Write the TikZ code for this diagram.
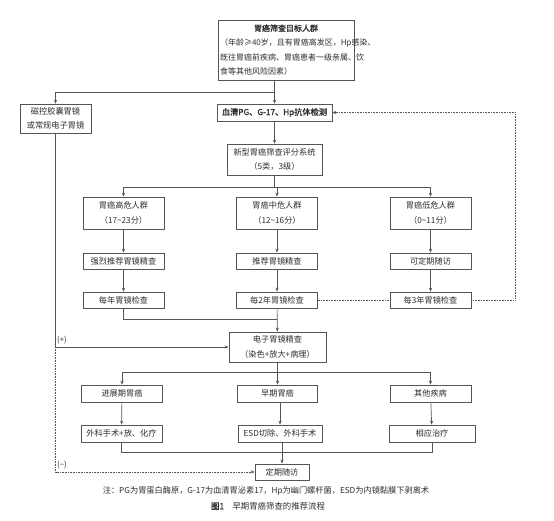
\documentclass[tikz,border=0pt]{standalone}
\usepackage{fontspec}
\setmainfont{Noto Sans CJK SC}[AutoFakeBold=1.5]
\usetikzlibrary{arrows.meta}
\definecolor{linec}{HTML}{555555}
\definecolor{textc}{HTML}{2E2E2E}
\begin{document}
\begin{tikzpicture}[x=1pt,y=-1pt,
  box/.style={draw=linec,line width=0.7pt,fill=white,text=textc,align=center,inner sep=1pt,
    font=\fontsize{8.2}{14.5}\selectfont},
  arr/.style={draw=linec,line width=0.7pt,-{Stealth[length=4pt,width=3.2pt]}},
  ln/.style={draw=linec,line width=0.7pt},
  dots/.style={draw=linec,line width=0.6pt,dash pattern=on 0.8pt off 0.8pt},
  lbl/.style={text=textc,inner sep=0pt,font=\fontsize{7.8}{9}\selectfont}]
\useasboundingbox (0,0) rectangle (554,521);
\node[box,minimum width=136pt,minimum height=60pt,text width=132pt,align=left,font=\fontsize{8}{14.5}\selectfont] (target) at (286,50)
  {\makebox[132pt]{\bfseries 胃癌筛查目标人群}\\（年龄≥40岁，且有胃癌高发区，Hp感染、\\既往胃癌前疾病、胃癌患者一级亲属、饮\\食等其他风险因素）};
\node[box,minimum width=71pt,minimum height=29pt] (capsule) at (55.5,118.5) {磁控胶囊胃镜\\或常规电子胃镜};
\node[box,minimum width=115pt,minimum height=17pt] (serum) at (274.5,112.5) {\bfseries 血清PG、G-17、Hp抗体检测};
\node[box,minimum width=95pt,minimum height=31pt] (score) at (274.5,159.5) {新型胃癌筛查评分系统\\（5类，3级）};
\node[box,minimum width=81pt,minimum height=32pt] (high) at (123.5,213) {胃癌高危人群\\（17\textasciitilde 23分）};
\node[box,minimum width=81pt,minimum height=32pt] (mid) at (277,213) {胃癌中危人群\\（12\textasciitilde 16分）};
\node[box,minimum width=81pt,minimum height=32pt] (low) at (430.5,213) {胃癌低危人群\\（0\textasciitilde 11分）};
\node[box,minimum width=81pt,minimum height=16pt] (highrec) at (123.5,261) {强烈推荐胃镜精查};
\node[box,minimum width=81pt,minimum height=16pt] (midrec) at (277,261) {推荐胃镜精查};
\node[box,minimum width=81pt,minimum height=16pt] (lowrec) at (430.5,261) {可定期随访};
\node[box,minimum width=81pt,minimum height=16pt] (highyear) at (123.5,300) {每年胃镜检查};
\node[box,minimum width=81pt,minimum height=16pt] (midyear) at (277,300) {每2年胃镜检查};
\node[box,minimum width=81pt,minimum height=16pt] (lowyear) at (430.5,300) {每3年胃镜检查};
\node[box,minimum width=97pt,minimum height=30pt] (endo) at (277.5,347) {电子胃镜精查\\（染色+放大+病理）};
\node[box,minimum width=81pt,minimum height=17pt] (adv) at (122,393.5) {进展期胃癌};
\node[box,minimum width=80pt,minimum height=17pt] (early) at (277.5,393.5) {早期胃癌};
\node[box,minimum width=81pt,minimum height=17pt] (other) at (430.5,393.5) {其他疾病};
\node[box,minimum width=81pt,minimum height=17pt] (advtx) at (121.5,433.5) {外科手术+放、化疗};
\node[box,minimum width=84pt,minimum height=17pt] (esd) at (280,433.5) {ESD切除、外科手术};
\node[box,minimum width=86pt,minimum height=17pt] (othertx) at (432,433.5) {相应治疗};
\node[box,minimum width=54pt,minimum height=16pt] (follow) at (282,472) {定期随访};
\coordinate (split1) at (274.5,92);
\coordinate (split2) at (274.5,187);
\coordinate (join1) at (277,319);
\coordinate (split3) at (277.5,372);
\coordinate (merge) at (432,452);
\coordinate (loop) at (515,300);
\draw[ln] (target.south -| serum) -- (split1);
\draw[arr] (split1) -- (serum);
\draw[arr] (split1) -| (capsule);
\draw[arr] (serum) -- (score);
\draw[ln] (score) -- (split2);
\draw[arr] (split2) -| (high);
\draw[arr] (split2) -| (mid);
\draw[arr] (split2) -| (low);
\draw[arr] (high) -- (highrec);
\draw[arr] (mid) -- (midrec);
\draw[arr] (low) -- (lowrec);
\draw[arr] (highrec) -- (highyear);
\draw[arr] (midrec) -- (midyear);
\draw[arr] (lowrec) -- (lowyear);
\draw[ln] (highyear) |- (join1);
\draw[arr] (midyear) -- (endo);
\draw[dots] (midyear) -- (lowyear);
\draw[dots,-{Stealth[length=4pt,width=3.2pt]}] (lowyear) -- (loop) |- (serum);
\draw[arr] (capsule) |- (endo);
\node[lbl,anchor=south west] (plus) at (57,344) {(+)};
\draw[dots,-{Stealth[length=4pt,width=3.2pt]}] (capsule.south |- endo.west) |- (follow);
\node[lbl,anchor=south west] (minus) at (57,469) {(−)};
\draw[ln] (endo) -- (split3);
\draw[arr] (split3) -| (adv);
\draw[arr] (split3) -| (early);
\draw[arr] (split3) -| (other);
\draw[arr] (adv) -- (advtx);
\draw[arr] (early.south -| esd) -- (esd);
\draw[arr] (other) -- (othertx);
\draw[ln] (advtx) |- (merge) -- (othertx);
\draw[arr] (esd.south -| follow) -- (follow);
\node[lbl,font=\fontsize{8.2}{9}\selectfont] (note) at (266,491) {注：PG为胃蛋白酶原，G-17为血清胃泌素17，Hp为幽门螺杆菌，ESD为内镜黏膜下剥离术};
\node[lbl,font=\fontsize{8.4}{9}\selectfont] (caption) at (268,506) {\bfseries 图1\hspace{1em}\mdseries 早期胃癌筛查的推荐流程};
\end{tikzpicture}
\end{document}
